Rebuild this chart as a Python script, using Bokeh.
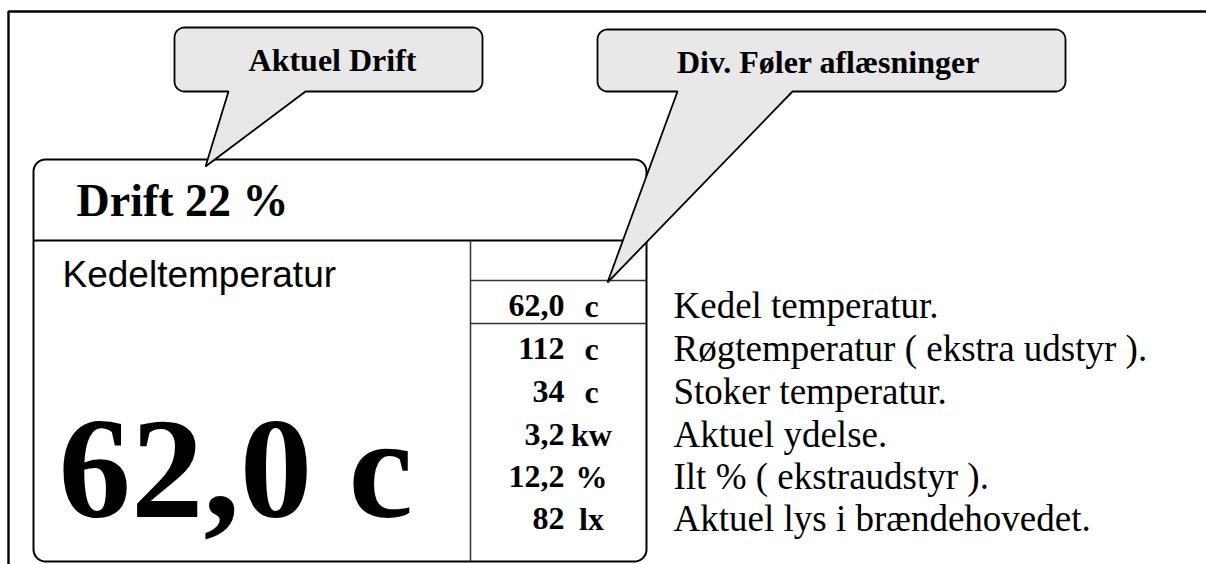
import math
from bokeh.plotting import figure
from bokeh.models import Range1d
from bokeh.core.properties import value
from bokeh.embed import file_html
from bokeh.resources import INLINE

# ---- content ----
callout_labels = ["Aktuel Drift", "Div. Føler aflæsninger"]
drift_label = "Drift 22 %"
main_label = "Kedeltemperatur"
main_value = "62,0 c"
reading_values = ["62,0", "112", "34", "3,2", "12,2", "82"]
reading_units = ["c", "c", "c", "kw", "%", "lx"]
descriptions = [
    "Kedel temperatur.",
    "Røgtemperatur ( ekstra udstyr ).",
    "Stoker temperatur.",
    "Aktuel ydelse.",
    "Ilt % ( ekstraudstyr ).",
    "Aktuel lys i brændehovedet.",
]

W, H = 1206, 564

p = figure(width=W, height=H, x_range=Range1d(0, W), y_range=Range1d(H, 0),
           output_backend="svg", toolbar_location=None, min_border=0,
           outline_line_color=None, background_fill_color="white",
           border_fill_color="white")
p.axis.visible = False
p.grid.visible = False


def arc(cx, cy, r, a0, a1, n=8):
    pts = []
    for i in range(n + 1):
        a = math.radians(a0 + (a1 - a0) * i / n)
        pts.append((cx + r * math.cos(a), cy + r * math.sin(a)))
    return pts


def rounded(x0, y0, x1, y1, r, tail=None):
    pts = [(x0 + r, y0), (x1 - r, y0)]
    pts += arc(x1 - r, y0 + r, r, -90, 0)
    pts += [(x1, y1 - r)]
    pts += arc(x1 - r, y1 - r, r, 0, 90)
    if tail is not None:
        bl, br, tx, ty = tail
        pts += [(br, y1), (tx, ty), (bl, y1)]
    pts += [(x0 + r, y1)]
    pts += arc(x0 + r, y1 - r, r, 90, 180)
    pts += [(x0, y0 + r)]
    pts += arc(x0 + r, y0 + r, r, 180, 270)
    xs = [a for a, b in pts]
    ys = [b for a, b in pts]
    return xs, ys


# outer frame (left and top)
p.line([8, 8, W], [H + 20, 11, 11], line_color="black", line_width=2.4)

# main panel
px0, py0, px1, py1 = 33, 159, 646, 561
xs, ys = rounded(px0, py0, px1, py1, 12)
p.patch(xs, ys, fill_color="white", line_color="black", line_width=2)

# header separator
p.segment(x0=[px0], y0=[240], x1=[px1], y1=[240], line_color="black", line_width=2)
# readings column
colx = 470
p.segment(x0=[colx], y0=[240], x1=[colx], y1=[py1], line_color="#333333", line_width=1.5)
p.segment(x0=[colx, colx], y0=[280, 323], x1=[px1, px1], y1=[280, 323],
          line_color="#333333", line_width=1.5)

# callouts
callout_boxes = [(174, 27, 482, 91), (597, 29, 1065, 91)]
callout_tails = [(228, 305, 205, 166), (677, 792, 607, 282)]
for (bx0, by0, bx1, by1), tail in zip(callout_boxes, callout_tails):
    xs, ys = rounded(bx0, by0, bx1, by1, 10, tail)
    p.patch(xs, ys, fill_color="#e8e8e8", line_color="black", line_width=1.8)

serif = value("Liberation Serif")
sans = value("Liberation Sans")

p.text(x=[332, 828], y=[59, 61], text=callout_labels, text_font=serif,
       text_font_style="bold", text_font_size="32px", text_align="center",
       text_baseline="middle", text_color="black")

p.text(x=[76], y=[200], text=[drift_label], text_font=serif, text_font_style="bold",
       text_font_size="46px", text_align="left", text_baseline="middle", text_color="black")

p.text(x=[62], y=[274], text=[main_label], text_font=sans, text_font_size="37px",
       text_align="left", text_baseline="middle", text_color="black")

p.text(x=[58], y=[467], text=[main_value], text_font=serif, text_font_style="bold",
       text_font_size="145px", text_align="left", text_baseline="middle", text_color="black")

row_y = [305, 348, 391, 434, 476, 518]
p.text(x=[564] * len(reading_values), y=row_y, text=reading_values,
       text_font=serif, text_font_style="bold", text_font_size="32px", text_align="right",
       text_baseline="middle", text_color="black")
p.text(x=[591] * len(reading_units), y=row_y, text=reading_units,
       text_font=serif, text_font_style="bold", text_font_size="32px", text_align="center",
       text_baseline="middle", text_color="black")
p.text(x=[673] * len(descriptions), y=row_y, text=descriptions,
       text_font=serif, text_font_size="37px", text_align="left",
       text_baseline="middle", text_color="black")

open("out.html", "w").write(file_html(p, INLINE))
